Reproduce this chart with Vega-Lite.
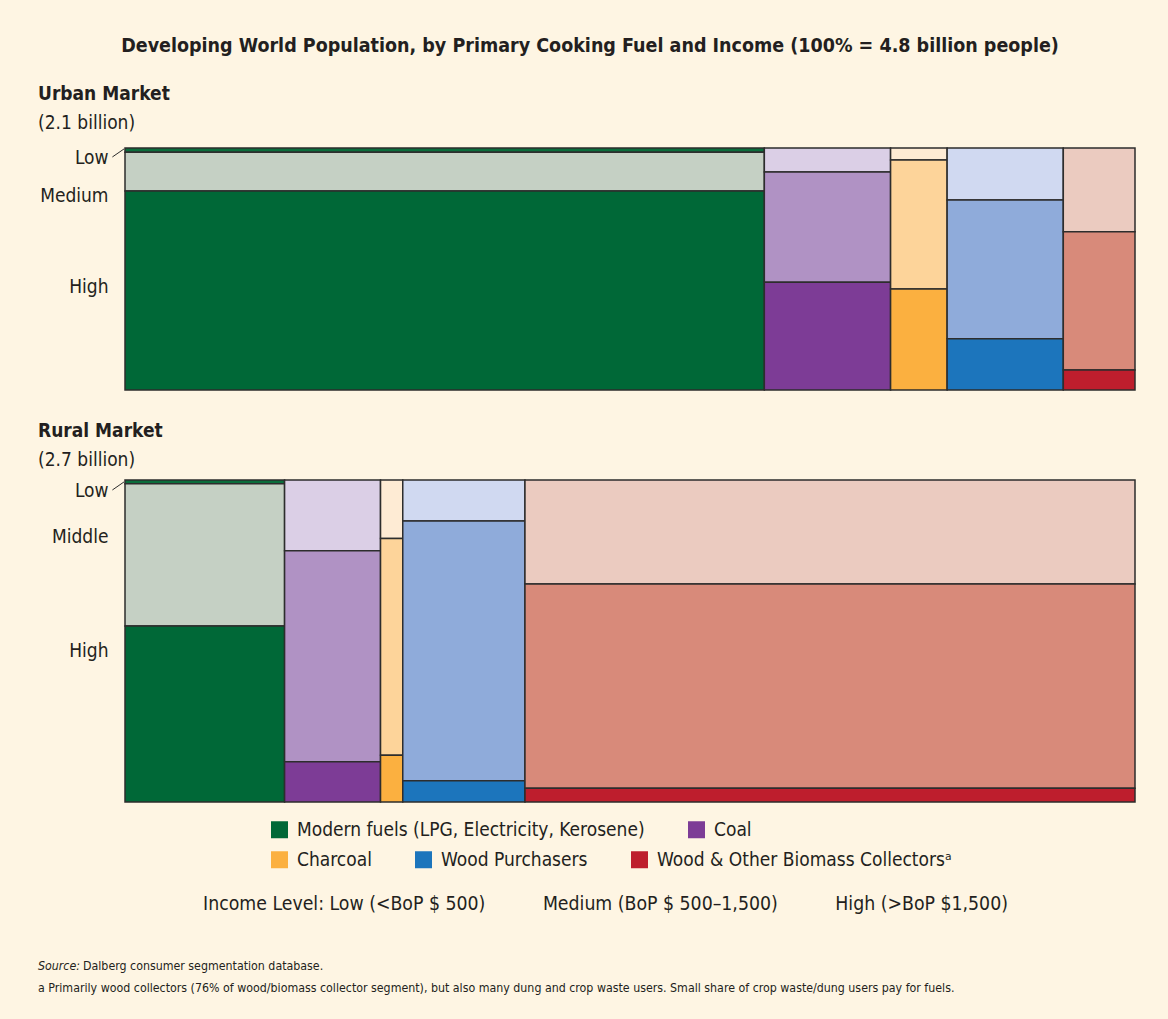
{
  "$schema": "https://vega.github.io/schema/vega-lite/v6.json",
  "background": "#fef5e3",
  "padding": {"left": 38, "top": 35, "right": 33, "bottom": 20},
  "title": {
    "text": "Developing World Population, by Primary Cooking Fuel and Income (100% = 4.8 billion people)",
    "fontSize": 19.5, "fontWeight": "bold", "color": "#231f20", "anchor": "middle", "frame": "group", "dx": -40, "offset": 29
  },
  "datasets": {
    "cells": [
      {"market": "Urban", "fuel": "Modern", "fuelOrder": 1, "income": "Low", "incOrder": 1, "share": 1.08, "segment": "Modern fuels · Low"},
      {"market": "Urban", "fuel": "Modern", "fuelOrder": 1, "income": "Medium", "incOrder": 2, "share": 10.19, "segment": "Modern fuels · Medium"},
      {"market": "Urban", "fuel": "Modern", "fuelOrder": 1, "income": "High", "incOrder": 3, "share": 52.03, "segment": "Modern fuels (LPG, Electricity, Kerosene)"},
      {"market": "Urban", "fuel": "Coal", "fuelOrder": 2, "income": "Low", "incOrder": 1, "share": 1.24, "segment": "Coal · Low"},
      {"market": "Urban", "fuel": "Coal", "fuelOrder": 2, "income": "Medium", "incOrder": 2, "share": 5.69, "segment": "Coal · Medium"},
      {"market": "Urban", "fuel": "Coal", "fuelOrder": 2, "income": "High", "incOrder": 3, "share": 5.57, "segment": "Coal"},
      {"market": "Urban", "fuel": "Charcoal", "fuelOrder": 3, "income": "Low", "incOrder": 1, "share": 0.28, "segment": "Charcoal · Low"},
      {"market": "Urban", "fuel": "Charcoal", "fuelOrder": 3, "income": "Medium", "incOrder": 2, "share": 2.98, "segment": "Charcoal · Medium"},
      {"market": "Urban", "fuel": "Charcoal", "fuelOrder": 3, "income": "High", "incOrder": 3, "share": 2.34, "segment": "Charcoal"},
      {"market": "Urban", "fuel": "Wood Purchasers", "fuelOrder": 4, "income": "Low", "incOrder": 1, "share": 2.47, "segment": "Wood Purchasers · Low"},
      {"market": "Urban", "fuel": "Wood Purchasers", "fuelOrder": 4, "income": "Medium", "incOrder": 2, "share": 6.60, "segment": "Wood Purchasers · Medium"},
      {"market": "Urban", "fuel": "Wood Purchasers", "fuelOrder": 4, "income": "High", "incOrder": 3, "share": 2.43, "segment": "Wood Purchasers"},
      {"market": "Urban", "fuel": "Collectors", "fuelOrder": 5, "income": "Low", "incOrder": 1, "share": 2.46, "segment": "Collectors · Low"},
      {"market": "Urban", "fuel": "Collectors", "fuelOrder": 5, "income": "Medium", "incOrder": 2, "share": 4.05, "segment": "Collectors · Medium"},
      {"market": "Urban", "fuel": "Collectors", "fuelOrder": 5, "income": "High", "incOrder": 3, "share": 0.59, "segment": "Wood & Other Biomass Collectorsᵃ"},
      {"market": "Rural", "fuel": "Modern", "fuelOrder": 1, "income": "Low", "incOrder": 1, "share": 0.19, "segment": "Modern fuels · Low"},
      {"market": "Rural", "fuel": "Modern", "fuelOrder": 1, "income": "Medium", "incOrder": 2, "share": 6.97, "segment": "Modern fuels · Medium"},
      {"market": "Rural", "fuel": "Modern", "fuelOrder": 1, "income": "High", "incOrder": 3, "share": 8.64, "segment": "Modern fuels (LPG, Electricity, Kerosene)"},
      {"market": "Rural", "fuel": "Coal", "fuelOrder": 2, "income": "Low", "incOrder": 1, "share": 2.09, "segment": "Coal · Low"},
      {"market": "Rural", "fuel": "Coal", "fuelOrder": 2, "income": "Medium", "incOrder": 2, "share": 6.22, "segment": "Coal · Medium"},
      {"market": "Rural", "fuel": "Coal", "fuelOrder": 2, "income": "High", "incOrder": 3, "share": 1.19, "segment": "Coal"},
      {"market": "Rural", "fuel": "Charcoal", "fuelOrder": 3, "income": "Low", "incOrder": 1, "share": 0.40, "segment": "Charcoal · Low"},
      {"market": "Rural", "fuel": "Charcoal", "fuelOrder": 3, "income": "Medium", "incOrder": 2, "share": 1.48, "segment": "Charcoal · Medium"},
      {"market": "Rural", "fuel": "Charcoal", "fuelOrder": 3, "income": "High", "incOrder": 3, "share": 0.32, "segment": "Charcoal"},
      {"market": "Rural", "fuel": "Wood Purchasers", "fuelOrder": 4, "income": "Low", "incOrder": 1, "share": 1.54, "segment": "Wood Purchasers · Low"},
      {"market": "Rural", "fuel": "Wood Purchasers", "fuelOrder": 4, "income": "Medium", "incOrder": 2, "share": 9.76, "segment": "Wood Purchasers · Medium"},
      {"market": "Rural", "fuel": "Wood Purchasers", "fuelOrder": 4, "income": "High", "incOrder": 3, "share": 0.80, "segment": "Wood Purchasers"},
      {"market": "Rural", "fuel": "Collectors", "fuelOrder": 5, "income": "Low", "incOrder": 1, "share": 19.51, "segment": "Collectors · Low"},
      {"market": "Rural", "fuel": "Collectors", "fuelOrder": 5, "income": "Medium", "incOrder": 2, "share": 38.29, "segment": "Collectors · Medium"},
      {"market": "Rural", "fuel": "Collectors", "fuelOrder": 5, "income": "High", "incOrder": 3, "share": 2.60, "segment": "Wood & Other Biomass Collectorsᵃ"}
    ],
    "notes": [
      {"line": 1, "part": "lead", "text": "Source:"},
      {"line": 1, "part": "body", "text": "Dalberg consumer segmentation database."},
      {"line": 2, "part": "body2", "text": "a Primarily wood collectors (76% of wood/biomass collector segment), but also many dung and crop waste users. Small share of crop waste/dung users pay for fuels."}
    ]
  },
  "spacing": 90,
  "bounds": "flush",
  "resolve": {
    "scale": {"x": "independent", "y": "independent", "fill": "independent"},
    "axis": {"x": "independent", "y": "independent"},
    "legend": {"fill": "independent"}
  },
  "vconcat": [
    {
      "width": 1010, "height": 242,
      "title": {"text": "Urban Market", "subtitle": "(2.1 billion)", "anchor": "start", "frame": "group", "dx": -87, "offset": 14, "subtitlePadding": 10},
      "layer": [
        {
          "data": {"name": "cells"},
          "transform": [
            {"filter": {"field": "market", "equal": "Urban"}},
            {"stack": "share", "groupby": ["market"], "sort": [{"field": "fuelOrder", "order": "ascending"}, {"field": "incOrder", "order": "ascending"}], "as": ["cx0", "cx1"]},
            {"joinaggregate": [{"op": "min", "field": "cx0", "as": "fx0"}, {"op": "max", "field": "cx1", "as": "fx1"}], "groupby": ["fuel"]},
            {"stack": "share", "groupby": ["fuel"], "sort": [{"field": "incOrder", "order": "ascending"}], "offset": "normalize", "as": ["y0", "y1"]}
          ],
          "mark": {"type": "rect", "stroke": "#2d2d2d", "strokeWidth": 1.5},
          "encoding": {
            "x": {"field": "fx0", "type": "quantitative", "scale": {"domain": [0, 100], "nice": false, "zero": false}, "axis": null},
            "x2": {"field": "fx1"},
            "y": {"field": "y0", "type": "quantitative", "scale": {"domain": [0, 1], "nice": false, "reverse": true},
              "axis": {"values": [0.041, 0.198, 0.574], "labelExpr": "datum.value < 0.1 ? 'Low' : datum.value < 0.3 ? 'Medium' : 'High'", "ticks": false, "domain": false, "grid": false, "title": null, "labelPadding": 17, "labelFlush": false, "labelOverlap": false}},
            "y2": {"field": "y1"},
            "fill": {"field": "segment", "type": "nominal",
              "scale": {
                "domain": ["Modern fuels · Low", "Modern fuels · Medium", "Modern fuels (LPG, Electricity, Kerosene)", "Coal · Low", "Coal · Medium", "Coal", "Charcoal · Low", "Charcoal · Medium", "Charcoal", "Wood Purchasers · Low", "Wood Purchasers · Medium", "Wood Purchasers", "Collectors · Low", "Collectors · Medium", "Wood & Other Biomass Collectorsᵃ"],
                "range": ["#0b6e3c", "#c5d0c4", "#006837", "#dbcfe6", "#b092c4", "#7d3c96", "#feebd4", "#fdd49a", "#fbb040", "#d0d9f1", "#8fabda", "#1c75bc", "#ebcbc0", "#d88a7a", "#be1e2d"]
              },
              "legend": {"values": ["Modern fuels (LPG, Electricity, Kerosene)", "Coal"], "orient": "none", "legendX": 145, "legendY": 672, "direction": "horizontal", "title": null}
            }
          }
        },
        {
          "data": {"values": [{}]},
          "mark": {"type": "rule", "stroke": "#2d2d2d", "strokeWidth": 1},
          "encoding": {
            "x": {"datum": -1.25}, "x2": {"datum": -0.1},
            "y": {"datum": 0.037}, "y2": {"datum": 0.004}
          }
        }
      ]
    },
    {
      "width": 1010, "height": 322,
      "title": {"text": "Rural Market", "subtitle": "(2.7 billion)", "anchor": "start", "frame": "group", "dx": -87, "offset": 9, "subtitlePadding": 10},
      "layer": [
        {
          "data": {"name": "cells"},
          "transform": [
            {"filter": {"field": "market", "equal": "Rural"}},
            {"stack": "share", "groupby": ["market"], "sort": [{"field": "fuelOrder", "order": "ascending"}, {"field": "incOrder", "order": "ascending"}], "as": ["cx0", "cx1"]},
            {"joinaggregate": [{"op": "min", "field": "cx0", "as": "fx0"}, {"op": "max", "field": "cx1", "as": "fx1"}], "groupby": ["fuel"]},
            {"stack": "share", "groupby": ["fuel"], "sort": [{"field": "incOrder", "order": "ascending"}], "offset": "normalize", "as": ["y0", "y1"]}
          ],
          "mark": {"type": "rect", "stroke": "#2d2d2d", "strokeWidth": 1.5},
          "encoding": {
            "x": {"field": "fx0", "type": "quantitative", "scale": {"domain": [0, 100], "nice": false, "zero": false},
              "axis": {"labels": false, "ticks": false, "domain": false, "grid": false,
                "title": "Income Level: Low (<BoP $ 500)\u2003\u2003\u2003 Medium (BoP $ 500–1,500)\u2003\u2003\u2003 High (>BoP $1,500)",
                "titleFontSize": 19.3, "titleFontWeight": "normal", "titleColor": "#231f20", "titleX": 480, "titleY": 101, "titleAlign": "center", "titleBaseline": "middle"}},
            "x2": {"field": "fx1"},
            "y": {"field": "y0", "type": "quantitative", "scale": {"domain": [0, 1], "nice": false, "reverse": true},
              "axis": {"values": [0.034, 0.177, 0.528], "labelExpr": "datum.value < 0.1 ? 'Low' : datum.value < 0.3 ? 'Middle' : 'High'", "ticks": false, "domain": false, "grid": false, "title": null, "labelPadding": 17, "labelFlush": false, "labelOverlap": false}},
            "y2": {"field": "y1"},
            "fill": {"field": "segment", "type": "nominal",
              "scale": {
                "domain": ["Modern fuels · Low", "Modern fuels · Medium", "Modern fuels (LPG, Electricity, Kerosene)", "Coal · Low", "Coal · Medium", "Coal", "Charcoal · Low", "Charcoal · Medium", "Charcoal", "Wood Purchasers · Low", "Wood Purchasers · Medium", "Wood Purchasers", "Collectors · Low", "Collectors · Medium", "Wood & Other Biomass Collectorsᵃ"],
                "range": ["#0b6e3c", "#c5d0c4", "#006837", "#dbcfe6", "#b092c4", "#7d3c96", "#feebd4", "#fdd49a", "#fbb040", "#d0d9f1", "#8fabda", "#1c75bc", "#ebcbc0", "#d88a7a", "#be1e2d"]
              },
              "legend": {"values": ["Charcoal", "Wood Purchasers", "Wood & Other Biomass Collectorsᵃ"], "orient": "none", "legendX": 145, "legendY": 370, "direction": "horizontal", "title": null}
            }
          }
        },
        {
          "data": {"values": [{}]},
          "mark": {"type": "rule", "stroke": "#2d2d2d", "strokeWidth": 1},
          "encoding": {
            "x": {"datum": -1.25}, "x2": {"datum": -0.1},
            "y": {"datum": 0.031}, "y2": {"datum": 0.006}
          }
        }
      ]
    },
    {
      "width": 1010, "height": 107,
      "data": {"name": "notes"},
      "encoding": {
        "y": {"field": "line", "type": "ordinal", "scale": {"type": "point", "range": [74, 96], "padding": 0}, "axis": null},
        "x": {"value": 0},
        "text": {"field": "text"}
      },
      "layer": [
        {"transform": [{"filter": {"field": "part", "equal": "lead"}}], "mark": {"type": "text", "align": "left", "baseline": "middle", "dx": -87, "fontSize": 12.3, "fontStyle": "italic", "color": "#231f20"}},
        {"transform": [{"filter": {"field": "part", "equal": "body"}}], "mark": {"type": "text", "align": "left", "baseline": "middle", "dx": -42, "fontSize": 12.3, "color": "#231f20"}},
        {"transform": [{"filter": {"field": "part", "equal": "body2"}}], "mark": {"type": "text", "align": "left", "baseline": "middle", "dx": -87, "fontSize": 12.3, "color": "#231f20"}}
      ]
    }
  ],
  "config": {
    "font": "Liberation Sans Narrow, Arial Narrow, DejaVu Sans Condensed, sans-serif",
    "view": {"stroke": null},
    "title": {"fontSize": 19, "fontWeight": "bold", "color": "#231f20", "subtitleFontSize": 19, "subtitleColor": "#231f20", "subtitlePadding": 7},
    "axis": {"labelFontSize": 19, "labelColor": "#231f20"},
    "legend": {"symbolType": "square", "symbolSize": 289, "symbolStrokeWidth": 0, "labelFontSize": 19, "labelColor": "#231f20", "labelLimit": 600, "columnPadding": 42, "labelOffset": 8}
  }
}
